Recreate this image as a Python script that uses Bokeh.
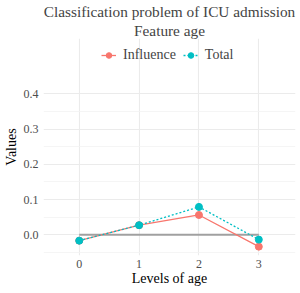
from bokeh.plotting import figure
from bokeh.models import Legend, LegendItem, Title, FixedTicker, ColumnDataSource, CustomJSTickFormatter
from bokeh.embed import file_html
from bokeh.resources import INLINE

levels = [0, 1, 2, 3]
influence = [-0.017, 0.027, 0.056, -0.034]
total = [-0.017, 0.027, 0.079, -0.014]
ref_x = [0, 3]
ref_y = [0, 0]
y_ticks = [0.0, 0.1, 0.2, 0.3, 0.4]
y_minor = [-0.05, 0.05, 0.15, 0.25, 0.35]
x_ticks = [0, 1, 2, 3]

FONT = "Liberation Serif"
RED = "#F8766D"
CYAN = "#00BFC4"

p = figure(width=300, height=293, output_backend="svg", toolbar_location=None,
           x_range=(-0.597, 3.613), y_range=(-0.0592, 0.5577),
           min_border_left=41, min_border_right=5, min_border_bottom=38, min_border_top=30)
p.outline_line_color = None
p.background_fill_color = "white"
p.title.visible = False

# grid
p.xgrid.ticker = FixedTicker(ticks=x_ticks)
p.ygrid.ticker = FixedTicker(ticks=y_ticks, minor_ticks=y_minor)
for g in (p.xgrid, p.ygrid):
    g.grid_line_color = "#ebebeb"
    g.grid_line_width = 1.1
p.xgrid.bounds = (-0.0592, 0.4394)
p.ygrid.minor_grid_line_color = "#f2f2f2"
p.ygrid.minor_grid_line_width = 0.8

# axes
p.xaxis.ticker = FixedTicker(ticks=x_ticks)
p.yaxis.ticker = FixedTicker(ticks=y_ticks)
p.yaxis.formatter = CustomJSTickFormatter(code="return tick.toFixed(1)")
for ax in (p.xaxis, p.yaxis):
    ax.axis_line_color = None
    ax.major_tick_line_color = None
    ax.minor_tick_line_color = None
    ax.major_tick_out = 0
    ax.minor_tick_out = 0
    ax.major_tick_in = 0
    ax.minor_tick_in = 0
    ax.major_label_text_font = FONT
    ax.major_label_text_font_size = "12px"
    ax.major_label_text_color = "#4d4d4d"
    ax.axis_label_text_font = FONT
    ax.axis_label_text_font_size = "14px"
    ax.axis_label_text_font_style = "normal"
    ax.axis_label_text_color = "black"
p.xaxis.axis_label = "Levels of age"
p.yaxis.axis_label = "Values"
p.xaxis.major_label_standoff = 4
p.xaxis.axis_label_standoff = 0
p.yaxis.major_label_standoff = 5
p.yaxis.axis_label_standoff = 2

# reference line
p.line(ref_x, ref_y, line_color="#a0a0a0", line_width=2)

src_i = ColumnDataSource(dict(x=levels, y=influence))
src_t = ColumnDataSource(dict(x=levels, y=total))
li = p.line("x", "y", source=src_i, line_color=RED, line_width=1.3)
si = p.scatter("x", "y", source=src_i, size=7, fill_color=RED, line_color=RED)
lt = p.line("x", "y", source=src_t, line_color=CYAN, line_width=1.3, line_dash="2 2")
st = p.scatter("x", "y", source=src_t, size=7, fill_color=CYAN, line_color=CYAN)

legend = Legend(items=[LegendItem(label="Influence", renderers=[li, si]),
                       LegendItem(label="Total", renderers=[lt, st])],
                orientation="horizontal", location=(58, 192),
                label_text_font=FONT, label_text_font_size="14px",
                glyph_width=15, glyph_height=14, spacing=7, label_standoff=7,
                padding=2, margin=0, border_line_color=None, background_fill_alpha=0)
p.add_layout(legend, "center")

p.add_layout(Title(text="Feature age", align="center", text_font=FONT, standoff=0,
                   text_font_size="15.3px", text_font_style="normal"), "above")
p.add_layout(Title(text="Classification problem of ICU admission", align="center", standoff=0,
                   text_font=FONT, text_font_size="15.3px", text_font_style="normal"), "above")

open("out.html", "w").write(file_html(p, INLINE))
